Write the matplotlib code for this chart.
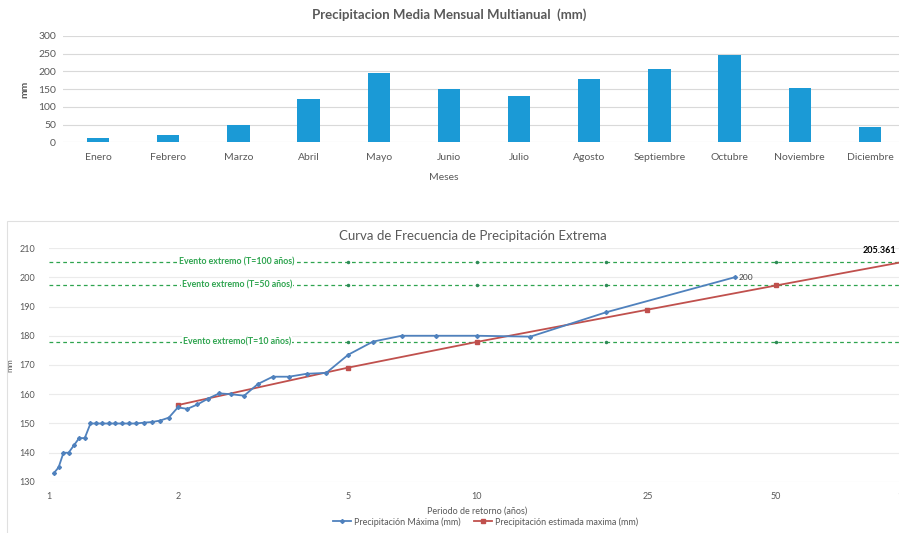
import matplotlib.pyplot as plt
from matplotlib.patches import Rectangle

# monthly means (top chart)
meses = ["Enero", "Febrero", "Marzo", "Abril", "Mayo", "Junio", "Julio",
         "Agosto", "Septiembre", "Octubre", "Noviembre", "Diciembre"]
precip_media = [11, 20, 49, 123, 195, 150, 132, 178, 208, 247, 152, 43]

# observed maxima vs return period (bottom chart)
t_max = [1.026, 1.053, 1.081, 1.111, 1.143, 1.176, 1.212, 1.25, 1.29, 1.333,
         1.379, 1.429, 1.481, 1.538, 1.6, 1.667, 1.739, 1.818, 1.905, 2.0,
         2.105, 2.222, 2.353, 2.5, 2.667, 2.857, 3.077, 3.333, 3.636, 4.0,
         4.444, 5.0, 5.714, 6.667, 8.0, 10.0, 13.33, 20.0, 40.0]
p_max = [133, 135, 140, 140, 142.5, 145, 145, 150, 150, 150,
         150, 150, 150, 150, 150, 150.3, 150.5, 151, 152, 155.5,
         155, 156.5, 158.5, 160.3, 160, 159.5, 163.5, 166, 166, 167,
         167.3, 173.5, 178, 180, 180, 180, 179.7, 188, 200]

# estimated maxima
t_est = [2, 5, 10, 25, 50, 100]
p_est = [156.3, 169.1, 177.9, 188.9, 197.2, 205.361]

# extreme event levels
eventos = ["Evento extremo (T=100 años)", "Evento extremo (T=50 años)",
           "Evento extremo(T=10 años)"]
niveles = [205.361, 197.2, 177.9]

x_ticks = [1, 2, 5, 10, 25, 50, 100]

plt.rcParams["font.family"] = ["Lato", "DejaVu Sans"]
gray = "#595959"
grid = "#D9D9D9"

fig = plt.figure(figsize=(8.99, 5.33), dpi=100)

# ---- top: bar chart
ax1 = fig.add_axes([0.0701, 0.733, 0.9366, 0.1995])
ax1.bar(range(len(meses)), precip_media, width=0.32, color="#1B9AD6", zorder=3)
ax1.set_xlim(-0.5, len(meses) - 0.5)
ax1.set_ylim(0, 300)
ax1.set_yticks(range(0, 301, 50))
ax1.set_xticks(range(len(meses)))
ax1.set_xticklabels(meses)
ax1.grid(axis="y", color=grid, lw=0.8, zorder=0)
for s in ax1.spines.values():
    s.set_visible(False)
ax1.tick_params(length=0, labelsize=7.5, labelcolor=gray)
ax1.tick_params(axis="x", pad=8)
ax1.tick_params(axis="y", pad=5)
ax1.set_ylabel("mm", fontsize=7.5, color=gray, fontweight="bold", labelpad=6)
ax1.set_xlabel("Meses", fontsize=7.5, color=gray, labelpad=2)
ax1.xaxis.set_label_coords(0.452, -0.29)
fig.text(0.5, 0.973, "Precipitacion Media Mensual Multianual  (mm)",
         ha="center", va="center", fontsize=9.5, fontweight="bold", color=gray)

# ---- bottom: frequency curve
fig.patches.append(Rectangle((7 / 899, -0.02), 1.1, (533 - 221) / 533 + 0.02,
                             transform=fig.transFigure, fill=False,
                             edgecolor="#E0E0E0", lw=0.8))

ax2 = fig.add_axes([0.0545, 0.0957, 0.9522, 0.439])
ax2.set_xscale("log")
ax2.set_xlim(1, 100)
ax2.set_ylim(130, 210)
ax2.set_yticks(range(130, 211, 10))
ax2.set_xticks(x_ticks)
ax2.set_xticklabels([str(t) for t in x_ticks])
ax2.minorticks_off()
ax2.grid(axis="y", color="#EBEBEB", lw=0.8, zorder=0)
for s in ax2.spines.values():
    s.set_visible(False)
ax2.tick_params(length=0, labelsize=6.5, labelcolor=gray)
ax2.tick_params(axis="y", pad=10)
ax2.tick_params(axis="x", pad=7)

for lvl, lab in zip(niveles, eventos):
    ax2.axhline(lvl, color="#2EA44F", ls=(0, (3, 2.5)), lw=0.9, zorder=2)
    ax2.plot([5, 10, 20, 50], [lvl] * 4, ls="none", marker="o", ms=1.5,
             color="#2E8B57", zorder=2)
    ax2.text(2.746, lvl, lab, ha="center", va="center", fontsize=6.3,
             fontweight="bold", color="#2EA44F", zorder=4,
             bbox=dict(facecolor="white", edgecolor="none", pad=0.6))

ax2.plot(t_max, p_max, color="#4F81BD", lw=1.3, marker="D", ms=2,
         label="Precipitación Máxima (mm)", zorder=5)
ax2.plot(t_est, p_est, color="#C0504D", lw=1.3, marker="s", ms=2.5,
         label="Precipitación estimada maxima (mm)", zorder=4)

ax2.annotate(f"{p_max[-1]:g}", (t_max[-1], p_max[-1]), xytext=(3, 0),
             textcoords="offset points", fontsize=6, color="#404040", va="center")
ax2.annotate(f"{p_est[-1]:.3f}", (t_est[-1], p_est[-1]), xytext=(-6, 8),
             textcoords="offset points", fontsize=6.5, fontweight="bold",
             color="black", ha="right", va="center", annotation_clip=False)

ax2.set_ylabel("mm", fontsize=6, color=gray, labelpad=4)
ax2.yaxis.set_label_coords(-0.042, 0.5)
ax2.set_xlabel("Periodo de retorno (años)", fontsize=6.5, color=gray)
ax2.xaxis.set_label_coords(0.5, -0.105)
ax2.set_title("Curva de Frecuencia de Precipitación Extrema", fontsize=9.5,
              color=gray, pad=6)
ax2.title.set_position((0.495, 1.0))

fig.legend(loc="center", bbox_to_anchor=(0.54, 0.021), ncol=2, frameon=False,
           fontsize=6.5, labelcolor=gray, handlelength=2, columnspacing=1.5,
           handletextpad=0.3)

fig.savefig("out.png", dpi=100)
